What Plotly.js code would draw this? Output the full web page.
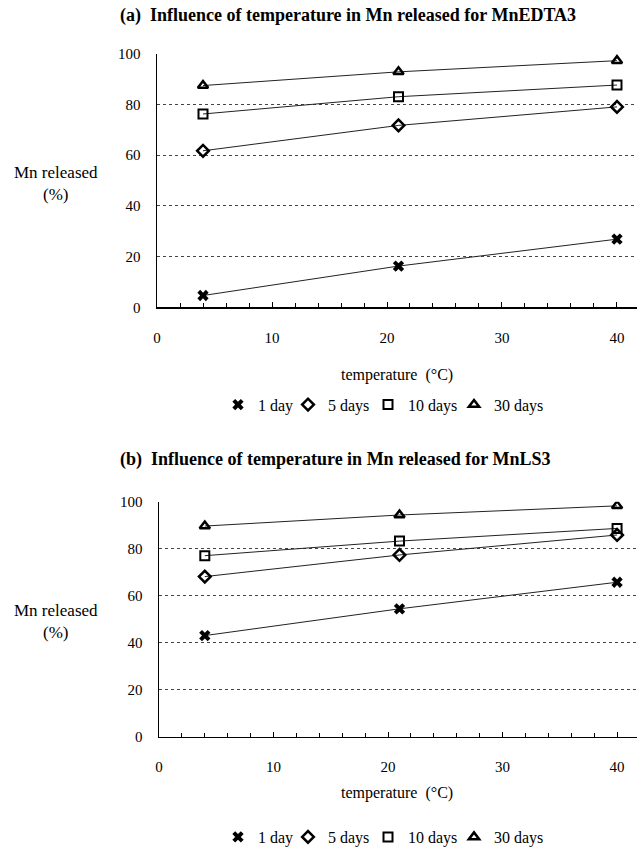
<!DOCTYPE html>
<html><head><meta charset="utf-8">
<script src="https://cdn.plot.ly/plotly-3.0.1.min.js"></script>
<style>html,body{margin:0;padding:0;background:#fff}#chart{width:637px;height:854px}</style>
</head><body><div id="chart"></div>
<script>
const temperature = [4, 21, 40];
const seriesNames = ["1 day", "5 days", "10 days", "30 days"];
// Panel (a): MnEDTA3
const edta_1day = [4.7, 16.3, 26.9];
const edta_5days = [61.7, 71.7, 79.0];
const edta_10days = [76.2, 83.0, 87.6];
const edta_30days = [87.4, 92.8, 97.2];
// Panel (b): MnLS3
const ls_1day = [43.1, 54.5, 65.8];
const ls_5days = [68.2, 77.4, 85.9];
const ls_10days = [77.1, 83.3, 88.7];
const ls_30days = [89.7, 94.4, 98.3];
const xTicks = [0, 10, 20, 30, 40];
const yTicks = [0, 20, 40, 60, 80, 100];

const W = 637, H = 854;
const serif = "Liberation Serif";
const markerStyles = [
  {symbol: "x", size: 10, color: "#000", line: {width: 0}},
  {symbol: "diamond-open", size: 9, color: "#000", line: {width: 2.5, color: "#000"}},
  {symbol: "square-open", size: 9, color: "#000", line: {width: 2, color: "#000"}},
  {symbol: "triangle-up-open", size: 9, color: "#000", line: {width: 2.5, color: "#000"}}
];
// legend entry left positions (px) for the four series
const legendLeft = [218, 288, 368, 454];

function panelTraces(series, xa, ya, legendIds) {
  const tr = [];
  series.forEach((ys) => {
    tr.push({x: temperature, y: ys, xaxis: xa, yaxis: ya, mode: "lines",
      line: {color: "#222", width: 1}, showlegend: false, hoverinfo: "skip"});
  });
  series.forEach((ys, i) => {
    tr.push({x: temperature, y: ys, xaxis: xa, yaxis: ya, mode: "markers",
      name: seriesNames[i], marker: markerStyles[i], legend: legendIds[i], showlegend: true});
  });
  return tr;
}

const data = [].concat(
  panelTraces([edta_1day, edta_5days, edta_10days, edta_30days], "x", "y",
    ["legend", "legend2", "legend3", "legend4"]),
  panelTraces([ls_1day, ls_5days, ls_10days, ls_30days], "x2", "y2",
    ["legend5", "legend6", "legend7", "legend8"])
);

function xAxis(left, anchor) {
  return {domain: [left / W, 1], range: [0, 41.74], anchor: anchor,
    tickvals: xTicks, ticks: "inside", ticklen: 5, tickwidth: 1, tickcolor: "#000",
    minor: {dtick: 2, ticks: "inside", ticklen: 4, tickwidth: 1, tickcolor: "#000"},
    showgrid: false, zeroline: false, showline: true, linecolor: "#000", linewidth: 1.5,
    tickfont: {family: serif, size: 15, color: "#000"}, ticklabelstandoff: 16, fixedrange: true};
}
function yAxis(top, bottom, anchor) {
  return {domain: [(H - bottom) / H, (H - top) / H], range: [0, 100], anchor: anchor,
    tickvals: yTicks, ticks: "", showgrid: true, gridcolor: "#444", griddash: "3px,3px", gridwidth: 1,
    zeroline: false, showline: true, linecolor: "#000", linewidth: 1.5,
    tickfont: {family: serif, size: 15, color: "#000"}, ticklabelstandoff: 12, fixedrange: true};
}

function ann(text, px, py, opts) {
  return Object.assign({text: text, x: px / W, y: (H - py) / H, xref: "paper", yref: "paper",
    xanchor: "center", yanchor: "middle",
    showarrow: false, font: {family: serif, size: 16, color: "#000"}}, opts || {});
}

function legendAt(left, row) {
  return {orientation: "h", x: left / W, xanchor: "left", y: (H - row) / H, yanchor: "middle",
    font: {family: serif, size: 16, color: "#000"}, itemwidth: 30, bgcolor: "rgba(0,0,0,0)", borderwidth: 0};
}

const layout = {
  width: W, height: H, margin: {l: 0, r: 0, t: 0, b: 0},
  paper_bgcolor: "#fff", plot_bgcolor: "#fff",
  xaxis: xAxis(157, "y"), yaxis: yAxis(54, 310, "x"),
  xaxis2: xAxis(159, "y2"), yaxis2: yAxis(506, 743, "x2"),
  legend: legendAt(legendLeft[0], 408),
  legend2: legendAt(legendLeft[1], 408),
  legend3: legendAt(legendLeft[2], 408),
  legend4: legendAt(legendLeft[3], 408),
  legend5: legendAt(legendLeft[0], 844),
  legend6: legendAt(legendLeft[1], 844),
  legend7: legendAt(legendLeft[2], 844),
  legend8: legendAt(legendLeft[3], 844),
  annotations: [
    ann("<b>(a)  Influence of temperature in Mn released for MnEDTA3</b>", 118, 16, {xanchor: "left", font: {family: serif, size: 18, color: "#000"}}),
    ann("<b>(b)  Influence of temperature in Mn released for MnLS3</b>", 118, 463, {xanchor: "left", font: {family: serif, size: 18, color: "#000"}}),
    ann("Mn released<br>(%)", 56, 185, {font: {family: serif, size: 17, color: "#000"}}),
    ann("Mn released<br>(%)", 56, 627, {font: {family: serif, size: 17, color: "#000"}}),
    ann("temperature  (°C)", 397, 378),
    ann("temperature  (°C)", 397, 800)
  ]
};

Plotly.newPlot("chart", data, layout, {displayModeBar: false, staticPlot: true});
</script></body></html>
